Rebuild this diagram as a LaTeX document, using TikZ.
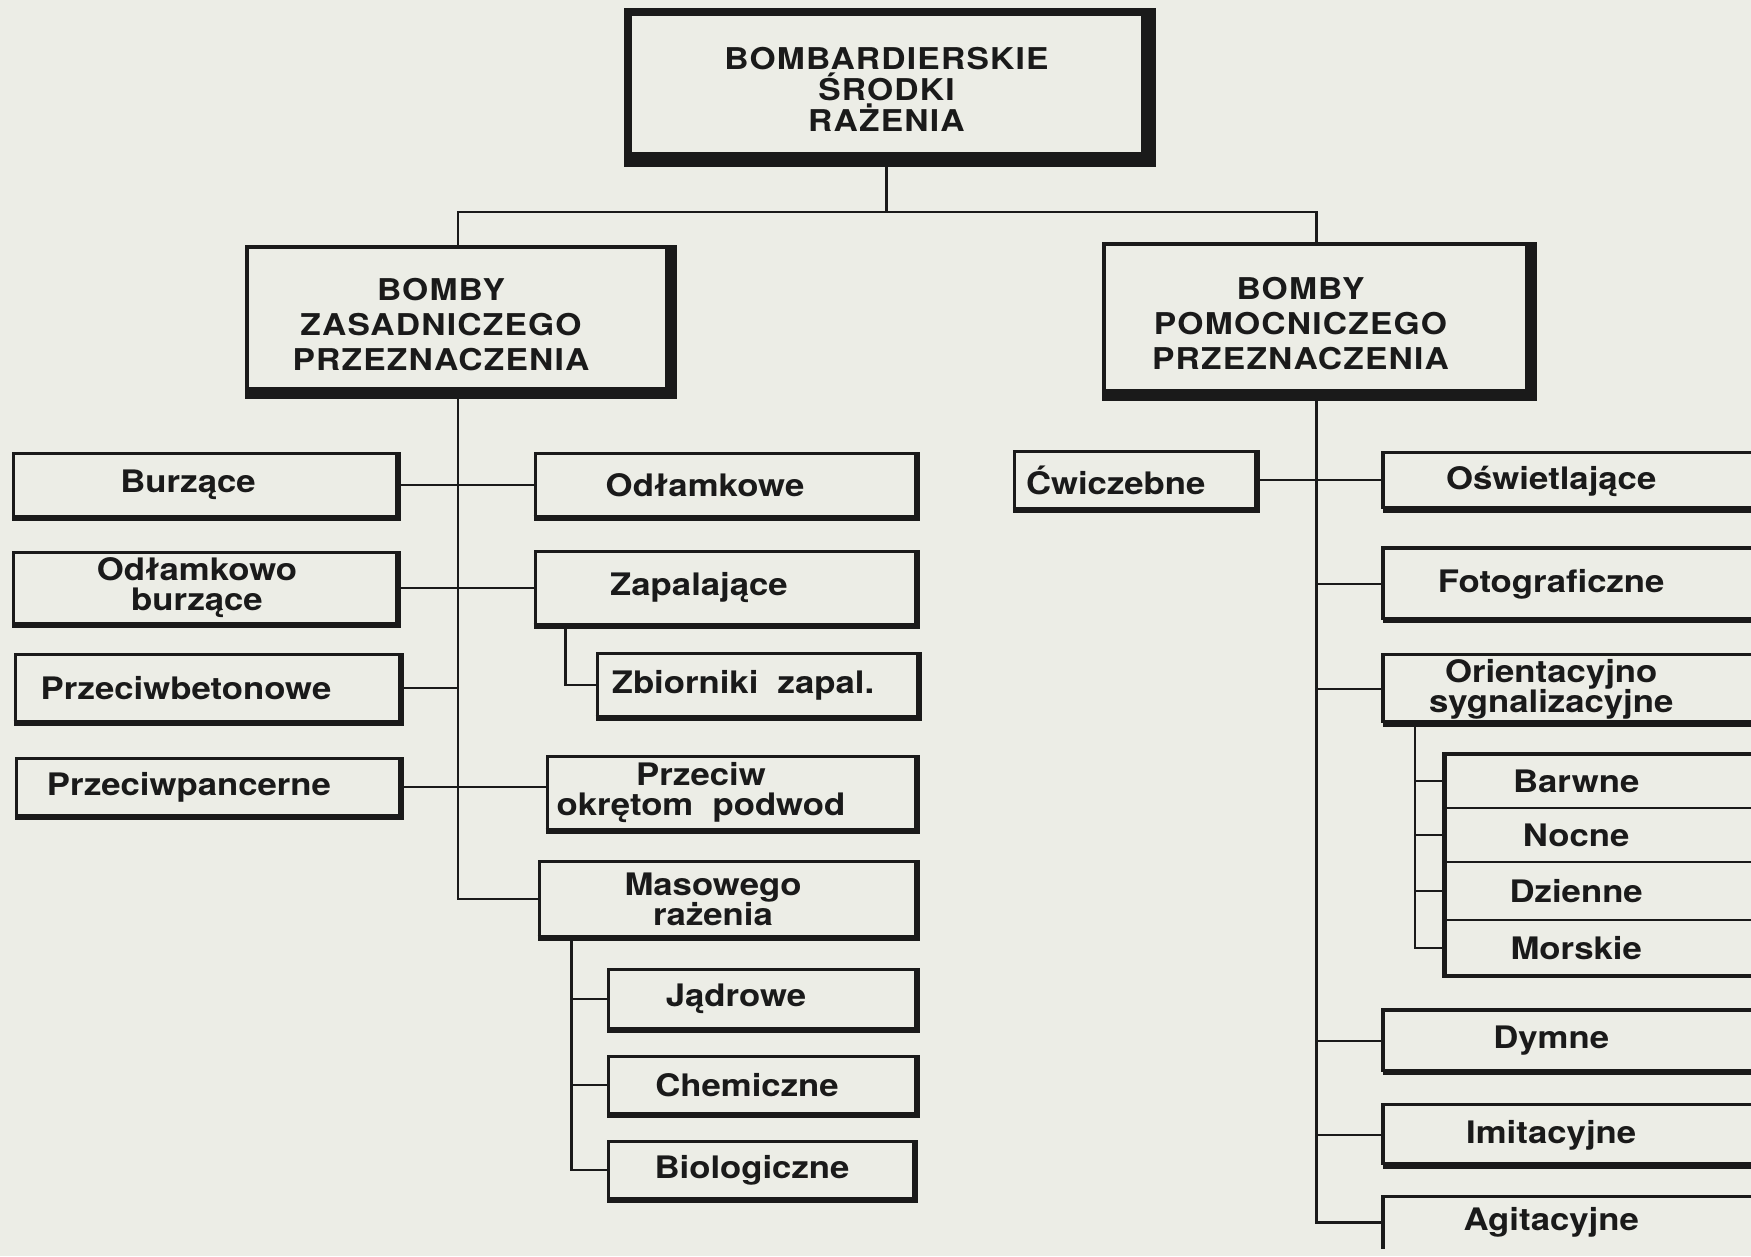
\documentclass[tikz,border=0pt]{standalone}
\usepackage{fontspec}
\setmainfont{TeX Gyre Heros}[FakeStretch=1.12]
\newfontfamily\headfont{TeX Gyre Heros}[FakeStretch=1.12, LetterSpace=4]

\definecolor{ink}{RGB}{26,26,26}
\definecolor{paper}{RGB}{236,237,230}

\tikzset{
  lbl/.style={font=\bfseries\fontsize{31}{30}\selectfont, align=center, inner sep=0pt, text=ink},
  head/.style={font=\headfont\bfseries\fontsize{30}{35}\selectfont, align=center, inner sep=0pt, text=ink},
  leaf/.style={draw=ink, line width=3pt, inner sep=0pt},
  rbox/.style={lbl, anchor=west, minimum width=336pt},
  sbox/.style={lbl, anchor=west, minimum width=263pt},
  wire/.style={draw=ink, line width=2.6pt},
}

\begin{document}
\begin{tikzpicture}[x=1pt, y=-1pt, line join=miter]

  %% ════ 背景 ════
  \fill[paper] (0,0) rectangle (1751,1256);

  %% ════ 顶层 ════
  % text height 加大 → 文字略下移；label 的 xshift → 文字略左移
  \node[head, font=\headfont\bfseries\fontsize{30}{31}\selectfont, text height=95pt, draw=ink, line width=8pt,
        minimum width=517pt, minimum height=144pt] (title) at (886.5,84)
    {BOMBARDIERSKIE\\ŚRODKI\\RAŻENIA};
  \node[leaf, line width=4pt, minimum width=422pt, minimum height=144pt,
        label={[head, text height=103pt, xshift=-17pt]center:BOMBY\\ZASADNICZEGO\\PRZEZNACZENIA}] (zas) at (458,319) {};
  \node[leaf, line width=4pt, minimum width=425pt, minimum height=149pt,
        label={[head, text height=103pt, xshift=-16pt]center:BOMBY\\POMOCNICZEGO\\PRZEZNACZENIA}] (pom) at (1316.5,318.5) {};

  %% ════ 左列 ════
  \node[leaf, minimum width=383pt, minimum height=62.5pt, label={[lbl, xshift=-17pt]center:Burzące}] (burz) at (205,485) {};
  \node[leaf, minimum width=383pt, minimum height=71.5pt, label={[lbl, xshift=-8pt]center:Odłamkowo\\burzące}] (odb) at (205,588) {};
  \node[leaf, minimum width=384pt, minimum height=66.5pt, label={[lbl, xshift=-21pt]center:Przeciwbetonowe}] (pbet) at (207,688) {};
  \node[leaf, minimum width=383pt, minimum height=57.5pt, label={[lbl, xshift=-19pt]center:Przeciwpancerne}] (ppanc) at (208,787) {};

  %% ════ 中列 ════
  \node[leaf, minimum width=380pt, minimum height=63.5pt, label={[lbl, xshift=-20pt]center:Odłamkowe}] (odl) at (725,485) {};
  \node[leaf, minimum width=380pt, minimum height=72.5pt, label={[lbl, xshift=-26pt]center:Zapalające}] (zap) at (725,588) {};
  \node[leaf, minimum width=320pt, minimum height=63.5pt, label={[lbl, xshift=-14pt]center:Zbiorniki~ zapal.}] (zbior) at (757,685) {};
  \node[leaf, minimum width=368pt, minimum height=73.5pt, label={[lbl, xshift=-30pt]center:Przeciw\\okrętom~ podwod}] (pokr) at (731,793) {};
  \node[leaf, minimum width=376pt, minimum height=75.5pt, label={[lbl, xshift=-14pt]center:Masowego\\rażenia}] (mas) at (727,899) {};
  \node[leaf, minimum width=307pt, minimum height=59.5pt, label={[lbl, xshift=-26pt]center:Jądrowe}] (jadr) at (762,999) {};
  \node[leaf, minimum width=307pt, minimum height=57.5pt, label={[lbl, xshift=-15pt]center:Chemiczne}] (chem) at (762,1085) {};
  \node[leaf, minimum width=305pt, minimum height=57.5pt, label={[lbl, xshift=-9pt]center:Biologiczne}] (bio) at (761,1170) {};

  %% ════ 右列 ════
  \node[leaf, lbl, minimum width=241.5pt, minimum height=57.5pt, text width=218pt, align=left] (cwicz) at (1135,480) {Ćwiczebne};
  \node[rbox, minimum height=56.5pt] (osw)    at (1383,481)  {Oświetlające};
  \node[rbox, minimum height=71.5pt] (foto)   at (1383,584)  {Fotograficzne};
  \node[rbox, minimum height=68.5pt] (orient) at (1383,689)  {Orientacyjno\\sygnalizacyjne};
  \node[sbox, minimum height=53.5pt] (barw)   at (1444.5,781) {Barwne};
  \node[sbox, minimum height=54pt]   (noc)    at (1444.5,835) {Nocne};
  \node[sbox, minimum height=58pt]   (dzien)  at (1444.5,891) {Dzienne};
  \node[sbox, minimum height=55.5pt] (mors)   at (1444.5,948) {Morskie};
  \node[rbox, minimum height=61.5pt] (dymne)  at (1383,1041) {Dymne};
  \node[rbox, minimum height=60.5pt] (imit)   at (1383,1135) {Imitacyjne};
  \node[rbox, minimum height=52pt]   (agit)   at (1383,1222.5) {Agitacyjne};

  %% ════ 阴影边（右、下加粗）════
  \draw[ink, line width=13pt] (title.south west) -- (title.south east) -- (title.north east);
  \draw[ink, line width=12pt] (zas.south west) -- (zas.south east) -- (zas.north east);
  \draw[ink, line width=12pt] (pom.south west) -- (pom.south east) -- (pom.north east);
  \foreach \n in {burz,odb,pbet,ppanc,odl,zap,zbior,pokr,mas,jadr,chem,bio,cwicz}
    \draw[ink, line width=6pt] (\n.south west) -- (\n.south east) -- (\n.north east);

  % 右侧方框伸出画面，只画左、上、下三边
  \foreach \n in {osw,foto,orient,dymne,imit} {
    \draw[ink, line width=3.5pt] ([xshift=368pt]\n.north west) -- (\n.north west) -- (\n.south west);
    \draw[ink, line width=6.5pt] (\n.south west) -- ([xshift=368pt]\n.south west);
  }
  \draw[ink, line width=3.5pt] ([xshift=368pt]agit.north west) -- (agit.north west) -- (agit.south west);
  \foreach \n in {barw,noc,dzien,mors}
    \draw[ink, line width=2.5pt] ([xshift=306.5pt]\n.north west) -- (\n.north west) -- (\n.south west) -- ([xshift=306.5pt]\n.south west);
  \draw[ink, line width=4.5pt] ([xshift=306.5pt]barw.north west) -- (barw.north west) -- (mors.south west) -- ([xshift=306.5pt]mors.south west);

  %% ════ 连线 ════
  \draw[wire] (title.south) -- ++(0,52) coordinate (fork);
  \draw[wire] (fork) -| (zas.north);
  \draw[wire] (fork) -| (pom.north);

  % 左支
  \draw[wire] (zas.south) |- (mas.west);
  \draw[wire] (burz) -- (odl);
  \draw[wire] (odb) -- (zap);
  \draw[wire] (pbet.east) -- (pbet.east -| zas.south);
  \draw[wire] (ppanc.east) -- (ppanc.east -| pokr.west);
  \draw[wire] ([xshift=32pt]zap.south west) |- (zbior.west);
  \coordinate (mfoot) at ([xshift=34pt]mas.south west);
  \draw[wire] (mfoot) |- (bio.west);
  \foreach \n in {jadr,chem}
    \draw[wire] (mfoot |- \n.west) -- (\n.west);

  % 右支
  \draw[wire] (pom.south) |- (agit.west);
  \draw[wire] (cwicz.east) -- (cwicz.east -| osw.west);
  \foreach \n in {foto,orient,dymne,imit}
    \draw[wire] (\n.west -| pom.south) -- (\n.west);
  \coordinate (ofoot) at ([xshift=32pt]orient.south west);
  \draw[wire] (ofoot) |- (mors.west);
  \foreach \n in {barw,noc,dzien}
    \draw[wire] (ofoot |- \n.west) -- (\n.west);

  \pgfresetboundingbox
  \path[use as bounding box] (0,0) rectangle (1751,1256);
\end{tikzpicture}
\end{document}
